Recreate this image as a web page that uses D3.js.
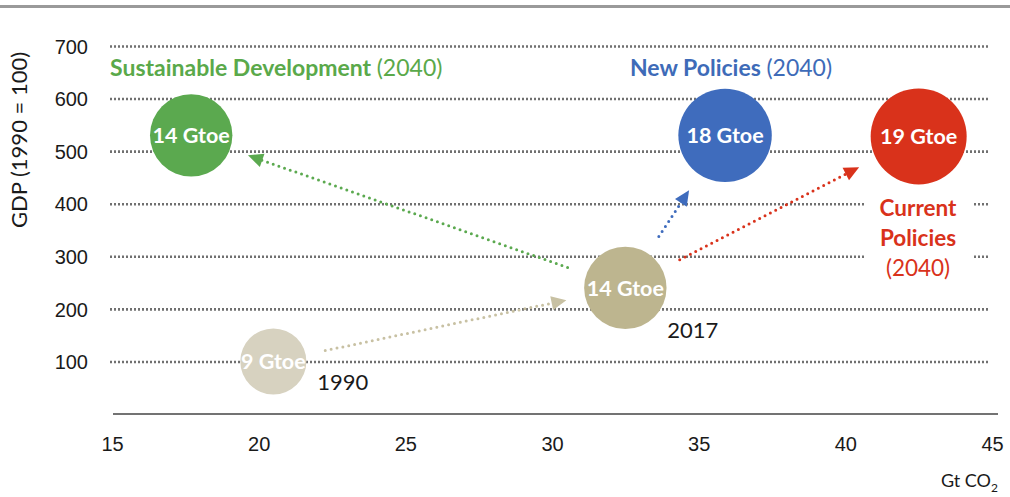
<!DOCTYPE html>
<html>
<head>
<meta charset="utf-8">
<script src="https://cdn.jsdelivr.net/npm/d3@7"></script>
<style>
  html, body { margin: 0; padding: 0; background: #fff; }
  svg { display: block; font-family: Lato, "Open Sans", sans-serif; }
</style>
</head>
<body>
<svg id="chart" width="1010" height="497"></svg>
<script>
// Energy demand, emissions and GDP: 1990, 2017 and 2040 scenarios
const points = ["1990", "2017", "Sustainable Development", "New Policies", "Current Policies"];
const emissions = [20.5, 32.5, 17.7, 35.9, 42.5];     // Gt CO2
const gdp = [100, 240, 530, 530, 528];                // GDP index, 1990 = 100
const energy = [9, 14, 14, 18, 19];                   // Gtoe
const energyLabels = ["9 Gtoe", "14 Gtoe", "14 Gtoe", "18 Gtoe", "19 Gtoe"];
const fills = ["#d7d2c0", "#bdb58f", "#5ba94f", "#3f6cbd", "#d9321b"];
const xTicks = [15, 20, 25, 30, 35, 40, 45];
const yTicks = [100, 200, 300, 400, 500, 600, 700];
// transitions: [from, to]
const transitions = [[0, 1], [1, 2], [1, 3], [1, 4]];

const svg = d3.select("#chart");

const x = d3.scaleLinear().domain([15, 45]).range([112, 992]);
const y = d3.scaleLinear().domain([0, 700]).range([414, 46]);
const r = d3.scaleSqrt().domain([0, 19]).range([0, 48]);

// top rule
svg.append("rect").attr("x", 0).attr("y", 5).attr("width", 1010).attr("height", 3).attr("fill", "#9a9a9a");

// dotted gridlines
const yAxis = d3.axisLeft(y).tickValues(yTicks).tickSize(-880).tickPadding(22).tickFormat(d3.format("d"));
const gy = svg.append("g").attr("transform", "translate(110,0)").call(yAxis);
gy.select(".domain").remove();
gy.selectAll(".tick line")
  .attr("stroke", "#707070").attr("stroke-width", 2.6)
  .attr("stroke-dasharray", "2 2");
gy.selectAll(".tick text")
  .attr("fill", "#1a1a1a").attr("font-size", 20).attr("dy", "0.36em");

// x axis
const xAxis = d3.axisBottom(x).tickValues(xTicks).tickSize(0).tickPadding(23).tickFormat(d3.format("d"));
const gx = svg.append("g").attr("transform", "translate(0,414)").call(xAxis);
gx.select(".domain").remove();
gx.selectAll(".tick text").attr("fill", "#1a1a1a").attr("font-size", 20);
svg.append("line").attr("x1", 113).attr("x2", 998).attr("y1", 414).attr("y2", 414)
  .attr("stroke", "#444").attr("stroke-width", 1.6);

// axis titles
svg.append("text")
  .attr("transform", "translate(27,140) rotate(-90)")
  .attr("text-anchor", "middle").attr("font-size", 22).attr("fill", "#1a1a1a")
  .text("GDP (1990 = 100)");
const xt = svg.append("text").attr("x", 998).attr("y", 487).attr("text-anchor", "end")
  .attr("font-size", 18).attr("fill", "#1a1a1a");
xt.append("tspan").text("Gt CO");
xt.append("tspan").attr("font-size", 12).attr("dy", 5).text("2");

// white backing behind the Current Policies label
svg.append("rect").attr("x", 864).attr("y", 194).attr("width", 108).attr("height", 86).attr("fill", "#fff");

// dotted transition arrows
const arrowG = svg.append("g");
transitions.forEach(([a, b]) => {
  const x0 = x(emissions[a]), y0 = y(gdp[a]);
  const x1 = x(emissions[b]), y1 = y(gdp[b]);
  const dx = x1 - x0, dy = y1 - y0, len = Math.hypot(dx, dy);
  const ux = dx / len, uy = dy / len;
  const s = r(energy[a]) + 20, e = r(energy[b]) + 19;
  const sx = x0 + ux * s, sy = y0 + uy * s;
  const tx = x1 - ux * e, ty = y1 - uy * e;
  const head = 15, half = 7;
  const bx = tx - ux * head, by = ty - uy * head;
  const lineCol = b === 1 ? "#c8c1a3" : fills[b];
  arrowG.append("line")
    .attr("x1", sx).attr("y1", sy).attr("x2", bx + ux * 3).attr("y2", by + uy * 3)
    .attr("stroke", lineCol).attr("stroke-width", 3)
    .attr("stroke-linecap", "round").attr("stroke-dasharray", "0 6");
  arrowG.append("path")
    .attr("d", d3.line()([[tx, ty], [bx - uy * half, by + ux * half], [bx + uy * half, by - ux * half]]) + "Z")
    .attr("fill", lineCol);
});

// bubbles
const bub = svg.append("g").selectAll("g").data(points).join("g")
  .attr("transform", (d, i) => `translate(${x(emissions[i])},${y(gdp[i])})`);
bub.append("circle").attr("r", (d, i) => r(energy[i])).attr("fill", (d, i) => fills[i]);
bub.append("text")
  .attr("text-anchor", "middle").attr("dy", "0.36em")
  .attr("font-size", 21.5).attr("font-weight", 700).attr("fill", "#fff")
  .text((d, i) => energyLabels[i]);

// year labels
svg.append("text").attr("x", x(emissions[0]) + 44).attr("y", y(gdp[0]) + 29)
  .attr("font-size", 22).attr("fill", "#1a1a1a").text(points[0]);
svg.append("text").attr("x", x(emissions[1]) + 42).attr("y", y(gdp[1]) + 50)
  .attr("font-size", 22).attr("fill", "#1a1a1a").text(points[1]);

// scenario labels
const sd = svg.append("text").attr("x", 110).attr("y", 76).attr("font-size", 23).attr("fill", "#5aa94a");
sd.append("tspan").attr("font-weight", 700).text(points[2] + " ");
sd.append("tspan").text("(2040)");

const np = svg.append("text").attr("x", 630).attr("y", 76).attr("font-size", 23).attr("fill", "#3e6bb8");
np.append("tspan").attr("font-weight", 700).text(points[3] + " ");
np.append("tspan").text("(2040)");

const cp = svg.append("text").attr("text-anchor", "middle").attr("font-size", 22.5).attr("fill", "#d9321b");
cp.append("tspan").attr("x", 918).attr("y", 216).attr("font-weight", 700).text("Current");
cp.append("tspan").attr("x", 918).attr("y", 246).attr("font-weight", 700).text("Policies");
cp.append("tspan").attr("x", 918).attr("y", 276).text("(2040)");
</script>
</body>
</html>
